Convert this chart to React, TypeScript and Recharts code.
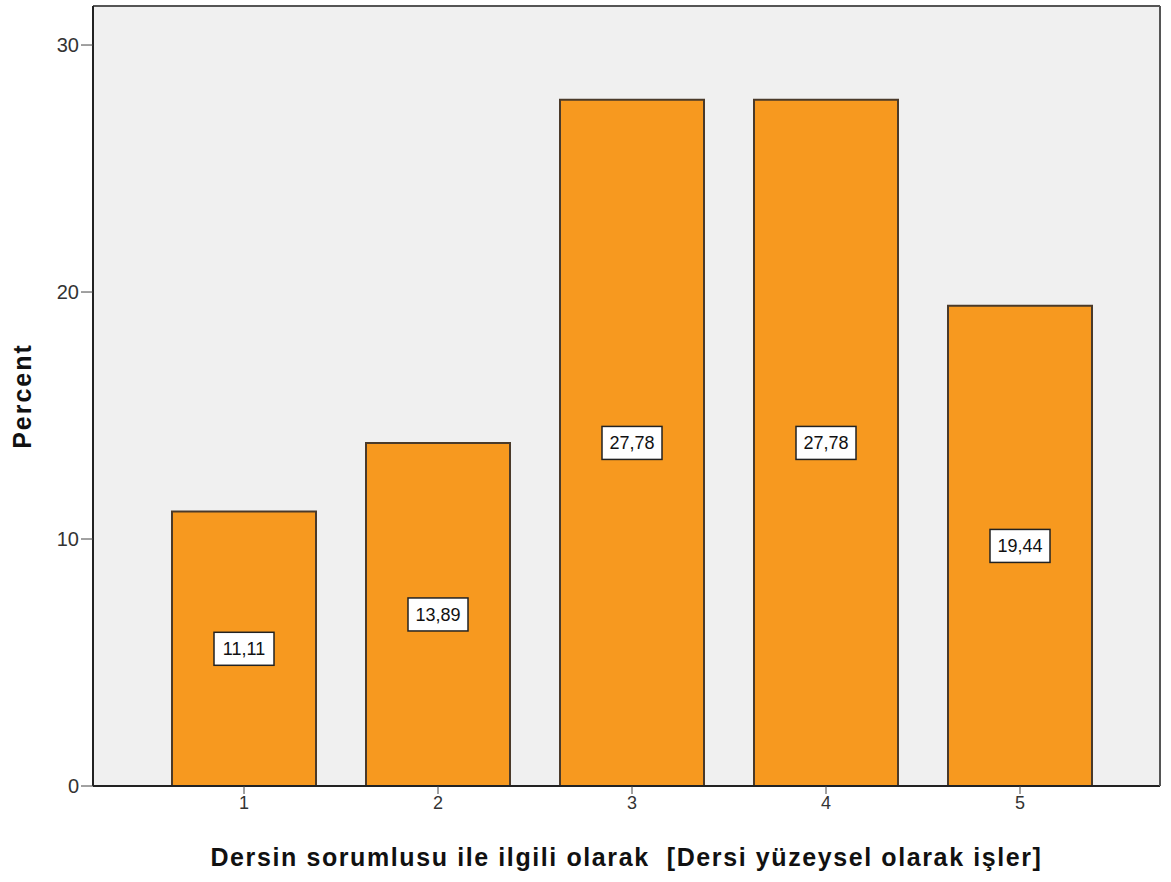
import React from 'react';
import { BarChart, Bar, XAxis, YAxis, CartesianGrid, LabelList } from 'recharts';

const categories = ['1', '2', '3', '4', '5'];
const percents = [11.11, 13.89, 27.78, 27.78, 19.44];
const yTicks = [0, 10, 20, 30];

const data = categories.map((c, i) => ({ cat: c, pct: percents[i] }));

const FONT = 'Liberation Sans, Arial, sans-serif';

const ValueBox = (props: any) => {
  const { x, y, width, height, value } = props;
  const cx = x + width / 2;
  const cy = y + height / 2;
  const txt = Number(value).toFixed(2).replace('.', ',');
  const w = 60;
  const h = 33;
  return (
    <g>
      <rect x={cx - w / 2} y={cy - h / 2} width={w} height={h} fill="#ffffff" stroke="#222" strokeWidth={1.5} />
      <text x={cx} y={cy + 6.5} textAnchor="middle" fontSize={18} fontFamily={FONT} fill="#111">
        {txt}
      </text>
    </g>
  );
};

export default function App() {
  return (
    <div style={{ position: 'absolute', left: 0, top: 0, width: 1171, height: 882, background: '#fff' }}>
      <BarChart
        width={1171}
        height={882}
        data={data}
        margin={{ top: 5, right: 10, bottom: 0, left: 0 }}
        barCategoryGap={25}
      >
        <CartesianGrid horizontal={false} vertical={false} fill="#f0f0f0" />
        <XAxis
          dataKey="cat"
          padding={{ left: 54, right: 43 }}
          axisLine={{ stroke: '#222', strokeWidth: 2 }}
          tickLine={{ stroke: '#444' }}
          tickSize={8}
          tick={{ fill: '#333', fontSize: 18, fontFamily: FONT }}
          height={96}
          label={{
            value: 'Dersin sorumlusu ile ilgili olarak \u00a0[Dersi yüzeysel olarak işler]',
            position: 'insideTop',
            offset: 62,
            style: { fontSize: 25, fontWeight: 'bold', fill: '#111', fontFamily: FONT, letterSpacing: 1.6 },
          }}
        />
        <XAxis xAxisId="top" dataKey="cat" orientation="top" height={1} tick={false} tickLine={false} axisLine={{ stroke: '#555', strokeWidth: 2 }} />
        <YAxis
          domain={[0, 31.58]}
          ticks={yTicks}
          allowDataOverflow
          width={93}
          axisLine={{ stroke: '#222', strokeWidth: 2 }}
          tickLine={{ stroke: '#444' }}
          tickSize={12}
          tick={{ fill: '#333', fontSize: 20, fontFamily: FONT }}
          label={{
            value: 'Percent',
            angle: -90,
            position: 'insideLeft',
            offset: 22,
            style: { fontSize: 25, fontWeight: 'bold', fill: '#111', fontFamily: FONT, textAnchor: 'middle', letterSpacing: 2 },
          }}
        />
        <YAxis yAxisId="right" orientation="right" width={1} tick={false} tickLine={false} axisLine={{ stroke: '#555', strokeWidth: 2 }} />
        <Bar dataKey="pct" fill="#f7991f" stroke="#4a3a2a" strokeWidth={2} isAnimationActive={false}>
          <LabelList dataKey="pct" content={<ValueBox />} />
        </Bar>
      </BarChart>
    </div>
  );
}
